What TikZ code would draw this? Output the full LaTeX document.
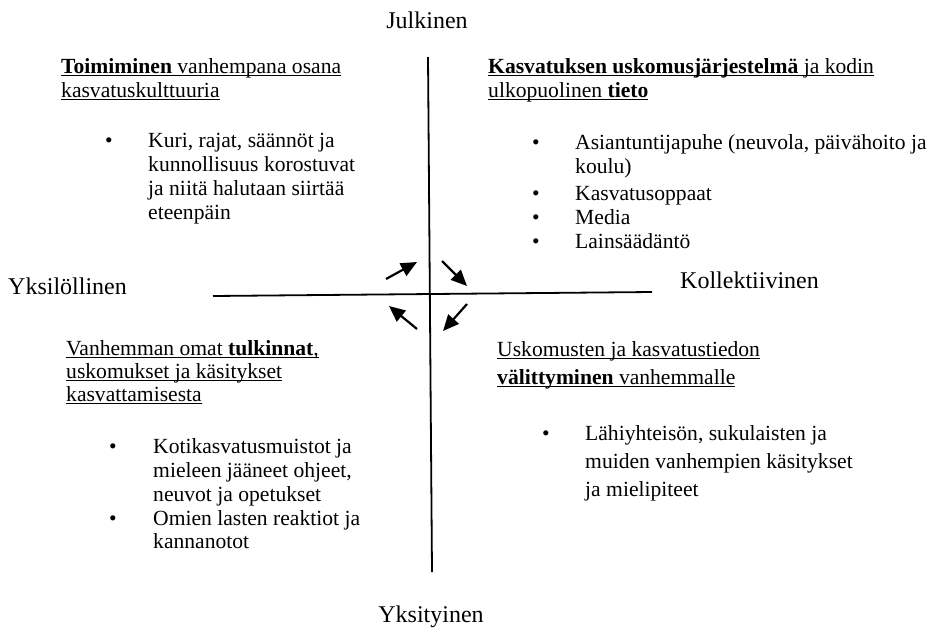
\documentclass[tikz,border=0pt]{standalone}
\usepackage{fontspec}
\setmainfont{Liberation Serif}
\usetikzlibrary{arrows.meta}

% underlined line with a rule at a fixed depth below the baseline
\newsavebox\ulsave
\newcommand\ulbox[1]{\sbox\ulsave{#1}\rlap{\rule[-2.8pt]{\wd\ulsave}{1pt}}\usebox\ulsave}

\begin{document}
\begin{tikzpicture}[x=1pt,y=-1pt,
  txt/.style={anchor=base west, inner sep=0pt, font=\fontsize{21.6}{26}\selectfont},
  axlabel/.style={anchor=base, inner sep=0pt, font=\fontsize{24}{28}\selectfont},
  sidelabel/.style={anchor=base west, inner sep=0pt, font=\fontsize{24}{28}\selectfont},
  bul/.style={anchor=base, inner sep=0pt, font=\fontsize{21.6}{26}\selectfont},
  axis/.style={line width=1.8pt},
  flow/.style={line width=2.2pt, -{Triangle[length=16pt,width=14pt]}}]
\useasboundingbox (0,0) rectangle (933,629);

% axes
\coordinate (vtop) at (428,57);
\coordinate (vbot) at (432,572);
\coordinate (hleft) at (213,296);
\coordinate (hright) at (652,292);
\draw[axis] (vtop) -- (vbot);
\draw[axis] (hleft) -- (hright);

% axis labels
\node[axlabel] (julk) at (427,28) {Julkinen};
\node[axlabel] (yksit) at (431,622) {Yksityinen};
\node[sidelabel] (yksil) at (8,294) {Yksilöllinen};
\node[sidelabel] (koll) at (680,288) {Kollektiivinen};

% circulation arrows around the origin
\coordinate (a1s) at (386,279); \coordinate (a1e) at (417,262);
\coordinate (a2s) at (442,261); \coordinate (a2e) at (467,286);
\coordinate (a3s) at (467,304); \coordinate (a3e) at (443,331);
\coordinate (a4s) at (417,329); \coordinate (a4e) at (389,306);
\draw[flow] (a1s) -- (a1e);
\draw[flow] (a2s) -- (a2e);
\draw[flow] (a3s) -- (a3e);
\draw[flow] (a4s) -- (a4e);

% upper left quadrant
\node[txt] (tlh1) at (61,73) {\ulbox{\textbf{Toimiminen} vanhempana osana}};
\node[txt] (tlh2) at (61,97) {\ulbox{kasvatuskulttuuria}};
\node[bul] (tlb1) at (109,147) {•};
\node[txt] (tl1) at (148,147) {Kuri, rajat, säännöt ja};
\node[txt] (tl2) at (148,171) {kunnollisuus korostuvat};
\node[txt] (tl3) at (148,195) {ja niitä halutaan siirtää};
\node[txt] (tl4) at (148,219) {eteenpäin};

% upper right quadrant
\node[txt] (trh1) at (488,73) {\ulbox{\textbf{Kasvatuksen uskomusjärjestelmä} ja kodin}};
\node[txt] (trh2) at (488,97) {\ulbox{ulkopuolinen \textbf{tieto}}};
\node[bul] (trb1) at (536,149) {•};
\node[txt] (tr1) at (575,149) {Asiantuntijapuhe (neuvola, päivähoito ja};
\node[txt] (tr2) at (575,173) {koulu)};
\node[bul] (trb2) at (536,200) {•};
\node[txt] (tr3) at (575,200) {Kasvatusoppaat};
\node[bul] (trb3) at (536,224) {•};
\node[txt] (tr4) at (575,224) {Media};
\node[bul] (trb4) at (536,248) {•};
\node[txt] (tr5) at (575,248) {Lainsäädäntö};

% lower left quadrant
\node[txt] (blh1) at (66,355) {\ulbox{Vanhemman omat \textbf{tulkinnat},}};
\node[txt] (blh2) at (66,378) {\ulbox{uskomukset ja käsitykset}};
\node[txt] (blh3) at (66,401) {\ulbox{kasvattamisesta}};
\node[bul] (blb1) at (113,453) {•};
\node[txt] (bl1) at (153,453) {Kotikasvatusmuistot ja};
\node[txt] (bl2) at (153,477) {mieleen jääneet ohjeet,};
\node[txt] (bl3) at (153,501) {neuvot ja opetukset};
\node[bul] (blb2) at (113,525) {•};
\node[txt] (bl4) at (153,525) {Omien lasten reaktiot ja};
\node[txt] (bl5) at (153,548) {kannanotot};

% lower right quadrant
\node[txt] (brh1) at (497,356) {\ulbox{Uskomusten ja kasvatustiedon}};
\node[txt] (brh2) at (497,384) {\ulbox{\textbf{välittyminen} vanhemmalle}};
\node[bul] (brb1) at (546,440) {•};
\node[txt] (br1) at (585,440) {Lähiyhteisön, sukulaisten ja};
\node[txt] (br2) at (585,468) {muiden vanhempien käsitykset};
\node[txt] (br3) at (585,496) {ja mielipiteet};
\end{tikzpicture}
\end{document}
